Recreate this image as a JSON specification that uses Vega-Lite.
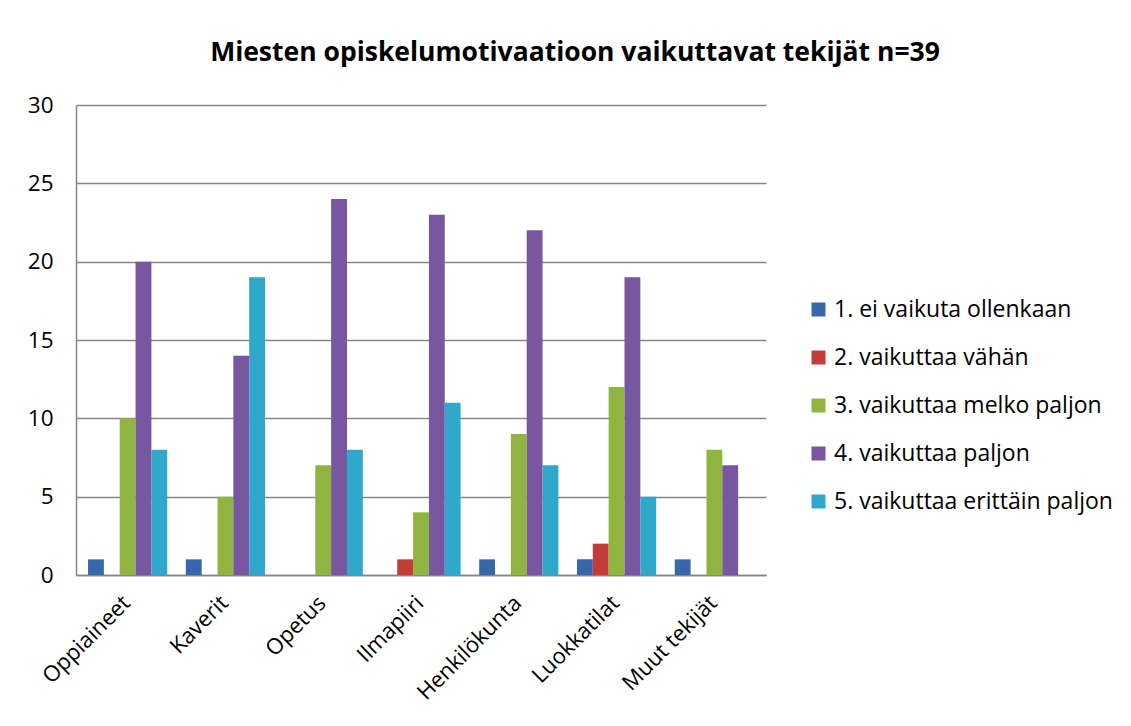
{
  "$schema": "https://vega.github.io/schema/vega-lite/v6.json",
  "width": 690,
  "height": 470,
  "autosize": {"type": "none"},
  "padding": {"left": 76, "top": 105, "right": 365, "bottom": 151},
  "background": "white",
  "title": {
    "text": "Miesten opiskelumotivaatioon vaikuttavat tekijät n=39",
    "font": "Open Sans",
    "fontSize": 26.5,
    "fontWeight": "bold",
    "color": "#000000",
    "anchor": "middle",
    "dx": 154,
    "offset": 28
  },
  "data": {
    "values": [
      {"kategoria": "Oppiaineet", "sarja": "1. ei vaikuta ollenkaan", "arvo": 1},
      {"kategoria": "Oppiaineet", "sarja": "2. vaikuttaa vähän", "arvo": 0},
      {"kategoria": "Oppiaineet", "sarja": "3. vaikuttaa melko paljon", "arvo": 10},
      {"kategoria": "Oppiaineet", "sarja": "4. vaikuttaa paljon", "arvo": 20},
      {"kategoria": "Oppiaineet", "sarja": "5. vaikuttaa erittäin paljon", "arvo": 8},
      {"kategoria": "Kaverit", "sarja": "1. ei vaikuta ollenkaan", "arvo": 1},
      {"kategoria": "Kaverit", "sarja": "2. vaikuttaa vähän", "arvo": 0},
      {"kategoria": "Kaverit", "sarja": "3. vaikuttaa melko paljon", "arvo": 5},
      {"kategoria": "Kaverit", "sarja": "4. vaikuttaa paljon", "arvo": 14},
      {"kategoria": "Kaverit", "sarja": "5. vaikuttaa erittäin paljon", "arvo": 19},
      {"kategoria": "Opetus", "sarja": "1. ei vaikuta ollenkaan", "arvo": 0},
      {"kategoria": "Opetus", "sarja": "2. vaikuttaa vähän", "arvo": 0},
      {"kategoria": "Opetus", "sarja": "3. vaikuttaa melko paljon", "arvo": 7},
      {"kategoria": "Opetus", "sarja": "4. vaikuttaa paljon", "arvo": 24},
      {"kategoria": "Opetus", "sarja": "5. vaikuttaa erittäin paljon", "arvo": 8},
      {"kategoria": "Ilmapiiri", "sarja": "1. ei vaikuta ollenkaan", "arvo": 0},
      {"kategoria": "Ilmapiiri", "sarja": "2. vaikuttaa vähän", "arvo": 1},
      {"kategoria": "Ilmapiiri", "sarja": "3. vaikuttaa melko paljon", "arvo": 4},
      {"kategoria": "Ilmapiiri", "sarja": "4. vaikuttaa paljon", "arvo": 23},
      {"kategoria": "Ilmapiiri", "sarja": "5. vaikuttaa erittäin paljon", "arvo": 11},
      {"kategoria": "Henkilökunta", "sarja": "1. ei vaikuta ollenkaan", "arvo": 1},
      {"kategoria": "Henkilökunta", "sarja": "2. vaikuttaa vähän", "arvo": 0},
      {"kategoria": "Henkilökunta", "sarja": "3. vaikuttaa melko paljon", "arvo": 9},
      {"kategoria": "Henkilökunta", "sarja": "4. vaikuttaa paljon", "arvo": 22},
      {"kategoria": "Henkilökunta", "sarja": "5. vaikuttaa erittäin paljon", "arvo": 7},
      {"kategoria": "Luokkatilat", "sarja": "1. ei vaikuta ollenkaan", "arvo": 1},
      {"kategoria": "Luokkatilat", "sarja": "2. vaikuttaa vähän", "arvo": 2},
      {"kategoria": "Luokkatilat", "sarja": "3. vaikuttaa melko paljon", "arvo": 12},
      {"kategoria": "Luokkatilat", "sarja": "4. vaikuttaa paljon", "arvo": 19},
      {"kategoria": "Luokkatilat", "sarja": "5. vaikuttaa erittäin paljon", "arvo": 5},
      {"kategoria": "Muut tekijät", "sarja": "1. ei vaikuta ollenkaan", "arvo": 1},
      {"kategoria": "Muut tekijät", "sarja": "2. vaikuttaa vähän", "arvo": 0},
      {"kategoria": "Muut tekijät", "sarja": "3. vaikuttaa melko paljon", "arvo": 8},
      {"kategoria": "Muut tekijät", "sarja": "4. vaikuttaa paljon", "arvo": 7},
      {"kategoria": "Muut tekijät", "sarja": "5. vaikuttaa erittäin paljon", "arvo": 0}
    ]
  },
  "mark": {"type": "bar"},
  "encoding": {
    "x": {
      "field": "kategoria",
      "type": "nominal",
      "sort": ["Oppiaineet", "Kaverit", "Opetus", "Ilmapiiri", "Henkilökunta", "Luokkatilat", "Muut tekijät"],
      "scale": {"paddingInner": 0.19, "paddingOuter": 0.123},
      "axis": {
        "title": null,
        "labelAngle": -45,
        "labelAlign": "right",
        "labelBaseline": "top",
        "labelFont": "Open Sans",
        "labelFontSize": 22,
        "labelColor": "#000000",
        "labelOffset": -8,
        "labelPadding": 17,
        "labelLimit": 0,
        "ticks": false,
        "domainColor": "#868686",
        "domainWidth": 1.5
      }
    },
    "xOffset": {
      "field": "sarja",
      "type": "nominal",
      "scale": {"paddingInner": 0, "paddingOuter": 0}
    },
    "y": {
      "field": "arvo",
      "type": "quantitative",
      "scale": {"domain": [0, 30], "nice": false},
      "axis": {
        "title": null,
        "values": [0, 5, 10, 15, 20, 25, 30],
        "labelFont": "Open Sans",
        "labelFontSize": 22.5,
        "labelColor": "#000000",
        "labelPadding": 23,
        "ticks": false,
        "grid": true,
        "gridColor": "#868686",
        "gridWidth": 1.5,
        "domainColor": "#868686",
        "domainWidth": 1.5
      }
    },
    "color": {
      "field": "sarja",
      "type": "nominal",
      "scale": {
        "domain": ["1. ei vaikuta ollenkaan", "2. vaikuttaa vähän", "3. vaikuttaa melko paljon", "4. vaikuttaa paljon", "5. vaikuttaa erittäin paljon"],
        "range": ["#3668ab", "#c43c3a", "#8fb43f", "#7856a0", "#30a8cc"]
      },
      "legend": {
        "title": null,
        "orient": "none",
        "legendX": 731,
        "legendY": 193,
        "symbolType": "square",
        "symbolSize": 196,
        "symbolStrokeWidth": 0,
        "labelFont": "Open Sans",
        "labelFontSize": 23,
        "labelColor": "#000000",
        "labelLimit": 0,
        "rowPadding": 24,
        "labelOffset": 4
      }
    }
  },
  "config": {
    "view": {"stroke": null}
  }
}
